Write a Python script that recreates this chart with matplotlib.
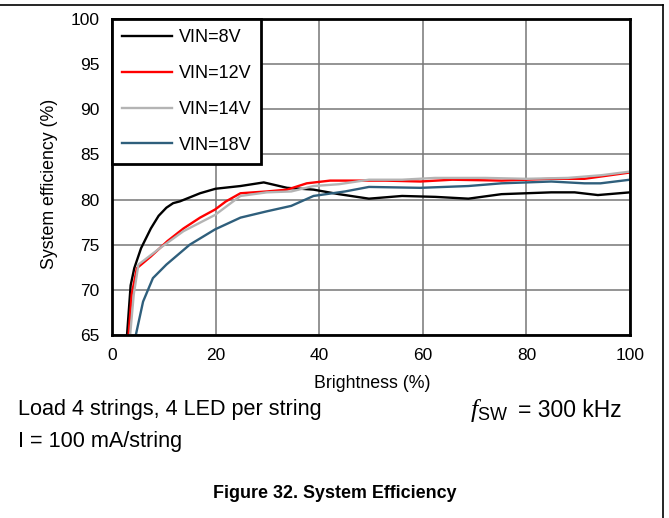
import matplotlib
matplotlib.use("Agg")
import matplotlib.pyplot as plt
from matplotlib.lines import Line2D

plt.rcParams['font.family'] = ['Liberation Sans', 'DejaVu Sans']
plt.rcParams['mathtext.fontset'] = 'custom'
plt.rcParams['mathtext.rm'] = 'Liberation Sans'
plt.rcParams['mathtext.it'] = 'Liberation Serif:italic'

# Data
x_8v = [2.9, 3.6, 4.3, 5.6, 7.5, 9.0, 10.5, 11.8, 13.1, 17, 20, 24.8, 29.3, 33.8, 38.9, 43.8, 49.6, 56, 62.4, 68.8, 75.2, 84.8, 89.3, 93.8, 100]
y_8v = [65, 70.5, 72.4, 74.6, 76.8, 78.2, 79.1, 79.6, 79.8, 80.7, 81.2, 81.5, 81.9, 81.3, 81.1, 80.6, 80.1, 80.4, 80.3, 80.1, 80.6, 80.8, 80.8, 80.5, 80.8]

x_12v = [3.2, 3.8, 4.8, 7.5, 10.7, 13.8, 17, 19.9, 22, 24.8, 29.9, 33.8, 37.6, 42.1, 45, 52.8, 59.5, 65.7, 75.2, 84.8, 91.2, 100]
y_12v = [65, 69.5, 72.4, 73.7, 75.4, 76.8, 78, 78.9, 79.8, 80.7, 80.9, 81.1, 81.8, 82.1, 82.1, 82.1, 82.0, 82.2, 82.1, 82.3, 82.3, 83.0]

x_14v = [3.5, 4.2, 5.1, 9.2, 13.8, 19.9, 24.8, 29.9, 34.6, 38.9, 43.8, 49.6, 56, 62.4, 72, 80, 88, 94.5, 100]
y_14v = [65, 69.5, 72.8, 74.6, 76.5, 78.3, 80.4, 80.8, 80.9, 81.5, 81.7, 82.2, 82.2, 82.4, 82.4, 82.3, 82.4, 82.7, 83.1]

x_18v = [4.6, 6, 7.9, 10.5, 15, 19.9, 24.8, 29.9, 34.6, 38.9, 45, 49.6, 59.5, 68.8, 75.2, 84.8, 91.2, 94.3, 100]
y_18v = [65, 68.7, 71.3, 72.8, 75, 76.7, 78, 78.7, 79.3, 80.4, 80.9, 81.4, 81.3, 81.5, 81.8, 82.0, 81.8, 81.8, 82.2]

labels = ['VIN=8V', 'VIN=12V', 'VIN=14V', 'VIN=18V']
colors = ['#000000', '#ff0000', '#b4b4b4', '#2f5f7c']
x_ticks = [0, 20, 40, 60, 80, 100]
y_ticks = [65, 70, 75, 80, 85, 90, 95, 100]

W, H = 669, 518
fig = plt.figure(figsize=(W / 100, H / 100), dpi=100)
ax = fig.add_axes([112 / W, 1 - 335 / H, (630 - 112) / W, (335 - 19) / H])

for xs, ys, lab, c in zip([x_8v, x_12v, x_14v, x_18v], [y_8v, y_12v, y_14v, y_18v], labels, colors):
    ax.plot(xs, ys, color=c, lw=1.7, label=lab, solid_joinstyle='round')

ax.set_xlim(0, 100)
ax.set_ylim(65, 100)
ax.set_xticks(x_ticks)
ax.set_yticks(y_ticks)
ax.tick_params(length=0, labelsize=12.5, pad=9)
ax.grid(True, color='#777777', lw=1.1)
ax.set_axisbelow(True)
for s in ax.spines.values():
    s.set_linewidth(2)
    s.set_color('black')

leg = ax.legend(loc='upper left', bbox_to_anchor=(0, 1), borderaxespad=0, fontsize=13,
                handlelength=2.8, handletextpad=0.35, labelspacing=1.05, borderpad=0.55,
                fancybox=False, framealpha=1, edgecolor='black')
leg.get_frame().set_linewidth(2)

fig.text(50 / W, 1 - 184 / H, 'System efficiency (%)', rotation=90, ha='center', va='center', fontsize=12.8)
fig.text(372 / W, 1 - 384 / H, 'Brightness (%)', ha='center', va='center', fontsize=12.8)
fig.text(18 / W, 1 - 410 / H, 'Load 4 strings, 4 LED per string', ha='left', va='center', fontsize=15.6)
fig.text(18 / W, 1 - 442 / H, 'I = 100 mA/string', ha='left', va='center', fontsize=15.6)
fig.text(622 / W, 1 - 417 / H, '= 300 kHz', ha='right', va='baseline', fontsize=16.5)
fig.text(508 / W, 1 - 417 / H, r'$f_{\mathrm{SW}}$', ha='right', va='baseline', fontsize=18.5)
fig.text(335 / W, 1 - 494 / H, 'Figure 32. System Efficiency', ha='center', va='center', fontsize=12.9, fontweight='bold')

# outer frame (top and right edges)
fig.add_artist(Line2D([0, 663 / W], [1 - 5 / H, 1 - 5 / H], color='black', lw=1.2, transform=fig.transFigure))
fig.add_artist(Line2D([663 / W, 663 / W], [1 - 5 / H, 0], color='black', lw=1.2, transform=fig.transFigure))

fig.savefig('out.png', dpi=100)
